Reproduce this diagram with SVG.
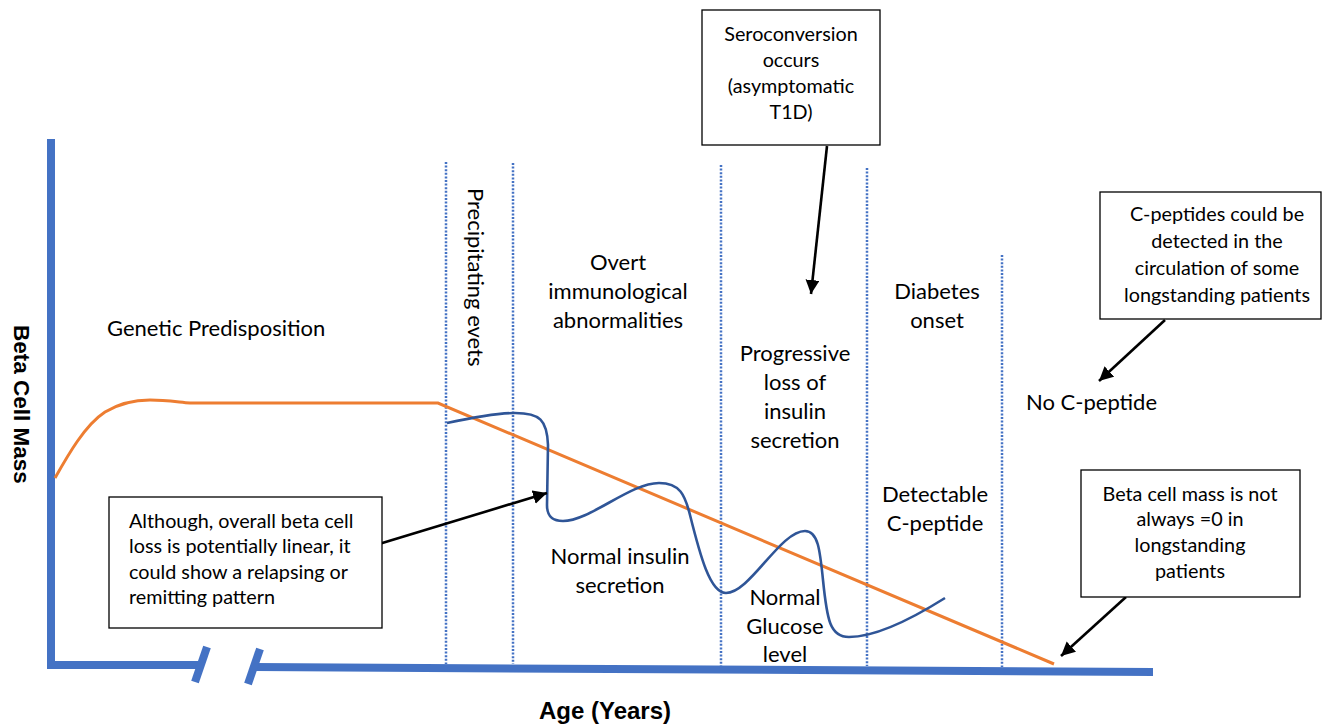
<svg xmlns="http://www.w3.org/2000/svg" width="1325" height="727" viewBox="0 0 1325 727">
<defs>
<marker id="ah" markerUnits="userSpaceOnUse" markerWidth="16" markerHeight="16" refX="14" refY="7" orient="auto">
<path d="M0,0 L14,7 L0,14 z" fill="#000"/>
</marker>
<style>
.lbl{font-family:Lato,"Liberation Sans",sans-serif;font-size:22px;fill:#000}
.c{text-anchor:middle}
.box{fill:#fff;stroke:#000;stroke-width:1.3}
.bt{font-family:Lato,"Liberation Sans",sans-serif;font-size:19.8px;fill:#000}
.ax{stroke:#4472C4;stroke-width:8;fill:none}
.dot{stroke:#4472C4;stroke-width:2.5;stroke-dasharray:2 1.6;fill:none}
.arr{stroke:#000;stroke-width:2.6;fill:none;marker-end:url(#ah)}
.axl{font-family:"Liberation Sans",Arial,sans-serif;font-weight:bold;fill:#000}
</style>
</defs>
<rect width="1325" height="727" fill="#fff"/>

<g id="axes">
<line class="ax" x1="51" y1="139" x2="51" y2="669"/>
<line class="ax" x1="47" y1="665" x2="200" y2="665"/>
<line class="ax" x1="254" y1="667" x2="1153" y2="672"/>
<line class="ax" x1="195" y1="682" x2="207" y2="647"/>
<line class="ax" x1="248" y1="684" x2="260" y2="649"/>
</g>

<g id="phase-lines">
<line class="dot" x1="446" y1="162" x2="446" y2="664"/>
<line class="dot" x1="513" y1="163" x2="513" y2="664"/>
<line class="dot" x1="721" y1="165" x2="721" y2="666"/>
<line class="dot" x1="867" y1="168" x2="867" y2="666"/>
<line class="dot" x1="1002" y1="255" x2="1002" y2="667"/>
</g>

<g id="curves">
<path d="M55,478 C68,455 85,425 105,412 C120,403 135,400 150,400 C165,400 178,402 190,403 L438,403 L1054,664" fill="none" stroke="#ED7D31" stroke-width="3"/>
<path d="M447,423 C475,417 500,413 515,413 C540,413 547,420 548,445 L547,505 C547,517 553,521 563,521 C590,521 630,483 659,483 C680,483 685,495 690,515 C700,555 710,593 726,593 C750,593 780,531 805,531 C818,531 820,550 823,580 C827,620 830,637 849,637 C875,637 910,620 945,598" fill="none" stroke="#2F5597" stroke-width="2.6"/>
</g>

<g id="labels">
<text class="lbl" x="107" y="336">Genetic Predisposition</text>
<text class="lbl" transform="translate(468,188) rotate(90)">Precipitating evets</text>
<text class="lbl c" x="618" y="270">Overt</text>
<text class="lbl c" x="618" y="299">immunological</text>
<text class="lbl c" x="618" y="328">abnormalities</text>
<text class="lbl c" x="795" y="361">Progressive</text>
<text class="lbl c" x="795" y="390">loss of</text>
<text class="lbl c" x="795" y="419">insulin</text>
<text class="lbl c" x="795" y="448">secretion</text>
<text class="lbl c" x="937" y="299">Diabetes</text>
<text class="lbl c" x="937" y="328">onset</text>
<text class="lbl" x="1026" y="410">No C-peptide</text>
<text class="lbl c" x="935" y="502">Detectable</text>
<text class="lbl c" x="935" y="531">C-peptide</text>
<text class="lbl c" x="620" y="564">Normal insulin</text>
<text class="lbl c" x="620" y="593">secretion</text>
<text class="lbl c" x="785" y="605">Normal</text>
<text class="lbl c" x="785" y="634">Glucose</text>
<text class="lbl c" x="785" y="662">level</text>
<text class="axl" font-size="22.5" transform="translate(14,325) rotate(90)">Beta Cell Mass</text>
<text class="axl c" font-size="24" x="605" y="719">Age (Years)</text>
</g>

<g id="connectors">
<line class="arr" x1="827" y1="146" x2="811" y2="294"/>
<line class="arr" x1="1165" y1="320" x2="1099" y2="381"/>
<line class="arr" x1="1126" y1="597" x2="1061" y2="656"/>
<line class="arr" x1="379" y1="544" x2="547" y2="493"/>
</g>

<g id="box-seroconversion">
<rect class="box" x="702" y="10" width="178" height="135"/>
<text class="bt c" x="791" y="41">Seroconversion</text>
<text class="bt c" x="791" y="67">occurs</text>
<text class="bt c" x="791" y="93">(asymptomatic</text>
<text class="bt c" x="791" y="119">T1D)</text>
</g>

<g id="box-cpeptides">
<rect class="box" x="1100" y="192" width="221" height="127"/>
<text class="bt c" x="1217" y="221">C-peptides could be</text>
<text class="bt c" x="1217" y="248">detected in the</text>
<text class="bt c" x="1217" y="275">circulation of some</text>
<text class="bt c" x="1217" y="302">longstanding patients</text>
</g>

<g id="box-betacell">
<rect class="box" x="1081" y="470" width="219" height="127"/>
<text class="bt c" x="1190" y="501">Beta cell mass is not</text>
<text class="bt c" x="1190" y="526">always =0 in</text>
<text class="bt c" x="1190" y="552">longstanding</text>
<text class="bt c" x="1190" y="578">patients</text>
</g>

<g id="box-although">
<rect class="box" x="109" y="497" width="273" height="131"/>
<text class="bt" x="129" y="528">Although, overall beta cell</text>
<text class="bt" x="129" y="553">loss is potentially linear, it</text>
<text class="bt" x="129" y="579">could show a relapsing or</text>
<text class="bt" x="129" y="604">remitting pattern</text>
</g>
</svg>
